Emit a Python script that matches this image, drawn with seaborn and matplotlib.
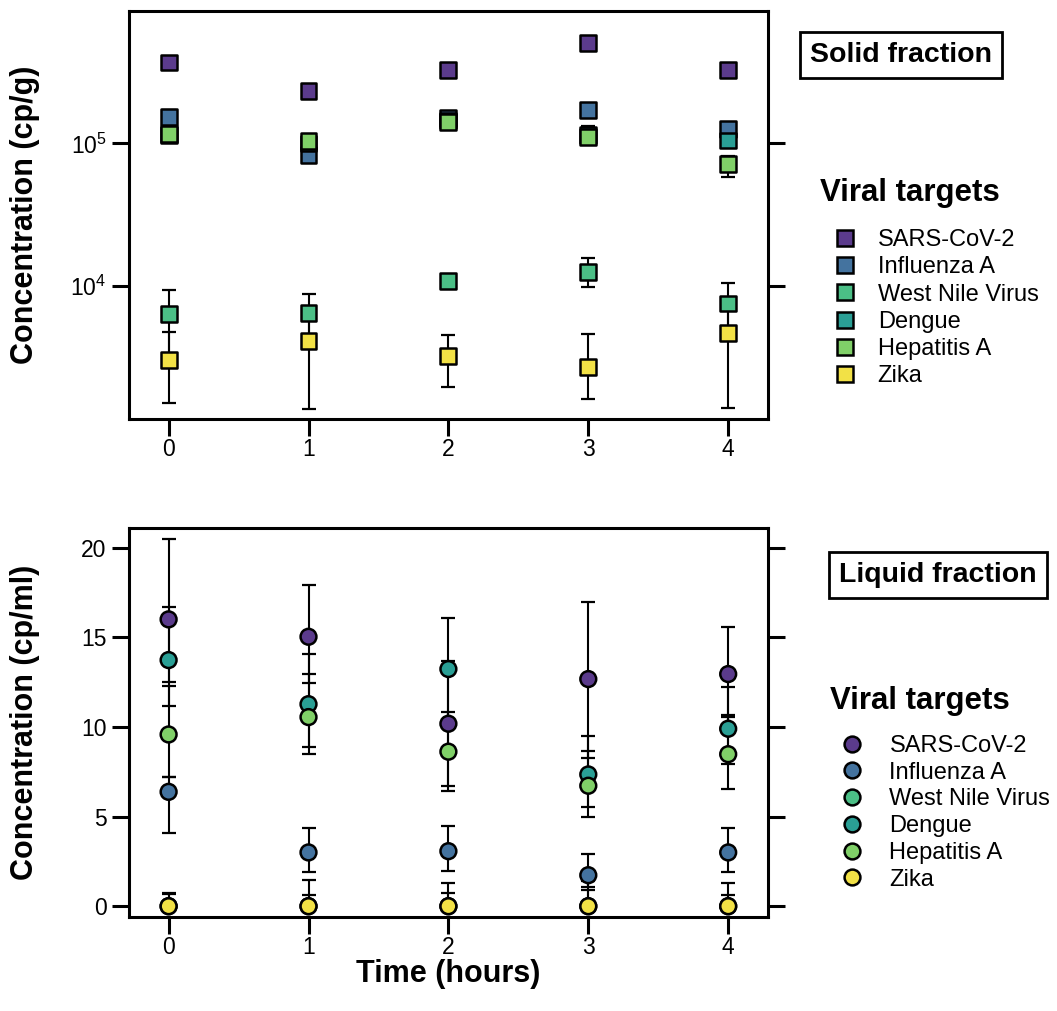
import pandas as pd
import seaborn as sns
import matplotlib.pyplot as plt

targets = ["SARS-CoV-2", "Influenza A", "West Nile Virus", "Dengue", "Hepatitis A", "Zika"]
colors = ["#5b3b8c", "#44739f", "#4bbf86", "#2a9f95", "#80d068", "#f2e146"]
hours = [0, 1, 2, 3, 4]

# solid fraction, cp/g (one row per target, same order as targets)
solid_mean = [
    [370000, 233000, 329000, 509000, 327000],
    [154000, 83000, 150000, 171000, 127000],
    [6300, 6400, 10800, 12500, 7500],
    [115000, 100000, 145000, 115000, 105000],
    [117000, 104000, 142000, 111000, 71300],
    [3000, 4110, 3210, 2700, 4640],
]
solid_low = [
    [355000, 222000, 316000, 490000, 314000],
    [136000, 78000, 141000, 161000, 119000],
    [3200, 4050, 10000, 9840, 4600],
    [108000, 94000, 137000, 108000, 99000],
    [110000, 98000, 134000, 104000, 58300],
    [1510, 1360, 1950, 1590, 1380],
]
solid_high = [
    [385000, 244000, 342000, 528000, 340000],
    [172000, 88000, 159000, 181000, 135000],
    [9400, 8750, 11600, 15700, 10400],
    [122000, 106000, 153000, 132000, 111000],
    [124000, 110000, 150000, 118000, 81500],
    [4750, 6860, 4500, 4560, 7900],
]

# liquid fraction, cp/ml
liquid_mean = [
    [16.0, 15.03, 10.18, 12.67, 12.95],
    [6.38, 3.0, 3.07, 1.73, 3.0],
    [0, 0, 0, 0, 0],
    [13.73, 11.27, 13.23, 7.35, 9.90],
    [9.58, 10.55, 8.62, 6.72, 8.48],
    [0, 0, 0, 0, 0],
]
liquid_low = [
    [11.18, 12.47, 6.72, 8.24, 10.53],
    [4.11, 1.93, 1.95, 1.08, 1.93],
    [0, 0, 0, 0, 0],
    [12.48, 8.47, 10.37, 5.54, 7.91],
    [7.2, 8.87, 6.44, 4.97, 6.56],
    [0, 0, 0, 0, 0],
]
liquid_high = [
    [20.48, 17.92, 13.66, 16.95, 15.59],
    [7.2, 4.39, 4.50, 2.94, 4.37],
    [0.75, 1.47, 1.30, 1.40, 1.27],
    [16.69, 14.05, 16.09, 9.49, 12.22],
    [12.26, 12.93, 10.83, 8.67, 10.64],
    [0.70, 0.65, 0.71, 0.89, 0.65],
]


def long_frame(mean, low, high):
    rows = []
    for name, m, lo, hi in zip(targets, mean, low, high):
        for h, v, a, b in zip(hours, m, lo, hi):
            rows.append({"hour": h, "target": name, "value": v, "low": a, "high": b})
    return pd.DataFrame(rows)


sns.set_theme(style="ticks")
plt.rcParams["font.family"] = ["Liberation Sans", "DejaVu Sans"]
plt.rcParams["mathtext.fontset"] = "custom"
plt.rcParams["mathtext.rm"] = "Liberation Sans"
plt.rcParams["text.color"] = "black"
plt.rcParams["axes.labelcolor"] = "black"

fig = plt.figure(figsize=(10.57, 10.11), dpi=100)
ax1 = fig.add_axes([0.1218, 0.5856, 0.6051, 0.4036])
ax2 = fig.add_axes([0.1218, 0.0930, 0.6051, 0.3848])


def draw(ax, df, marker):
    for name in targets:
        d = df[df["target"] == name]
        ax.errorbar(
            d["hour"], d["value"],
            yerr=[d["value"] - d["low"], d["high"] - d["value"]],
            fmt="none", ecolor="black", elinewidth=1.5,
            capsize=5, capthick=1.6, zorder=1,
        )
    sns.scatterplot(
        data=df, x="hour", y="value", hue="target", hue_order=targets,
        palette=colors, marker=marker, s=130, edgecolor="black",
        linewidth=1.8, ax=ax, zorder=3,
    )


solid = long_frame(solid_mean, solid_low, solid_high)
liquid = long_frame(liquid_mean, liquid_low, liquid_high)

ax1.set_yscale("log")
draw(ax1, solid, "s")
draw(ax2, liquid, "o")

ax1.set_ylim(1160, 853000)
ax1.set_yticks([1e4, 1e5], ["$10^{4}$", "$10^{5}$"])
ax1.minorticks_off()
ax2.set_ylim(-0.6, 21.1)
ax2.set_yticks([0, 5, 10, 15, 20])

for ax in (ax1, ax2):
    ax.set_xlim(-0.285, 4.287)
    ax.set_xticks(hours)
    ax.tick_params(axis="both", direction="out", length=12, width=2.2,
                   labelsize=16.5, pad=4, right=True, colors="black")
    ax.tick_params(axis="x", pad=2)
    for sp in ax.spines.values():
        sp.set_linewidth(2.2)
        sp.set_color("black")
    ax.set_xlabel("")
    ax.yaxis.set_label_coords(-0.138, 0.5)

ax1.set_ylabel("Concentration (cp/g)", fontsize=22, fontweight="bold")
ax2.set_ylabel("Concentration (cp/ml)", fontsize=22, fontweight="bold")
ax2.set_xlabel("Time (hours)", fontsize=22, fontweight="bold", labelpad=0)

# legends without title; the title is placed as its own text above them
sns.move_legend(ax1, "upper left", bbox_to_anchor=(1.0824, 0.465), frameon=False,
                title=None, fontsize=17, borderpad=0, borderaxespad=0,
                handletextpad=0.4, labelspacing=0.22)
sns.move_legend(ax2, "upper left", bbox_to_anchor=(1.0934, 0.468), frameon=False,
                title=None, fontsize=17, borderpad=0, borderaxespad=0,
                handletextpad=0.6, labelspacing=0.2)
fig.text(820 / 1057, 1 - 193 / 1011, "Viral targets", fontsize=22.5,
         fontweight="bold", ha="left", va="center")
fig.text(830 / 1057, 1 - 701 / 1011, "Viral targets", fontsize=22.5,
         fontweight="bold", ha="left", va="center")

box = dict(boxstyle="square,pad=0.35", facecolor="white", edgecolor="black", linewidth=2)
fig.text(901 / 1057, 1 - 55 / 1011, "Solid fraction", fontsize=20.5,
         fontweight="bold", ha="center", va="center", bbox=box)
fig.text(938 / 1057, 1 - 575 / 1011, "Liquid fraction", fontsize=20.5,
         fontweight="bold", ha="center", va="center", bbox=box)

fig.savefig("out.png", dpi=100)
